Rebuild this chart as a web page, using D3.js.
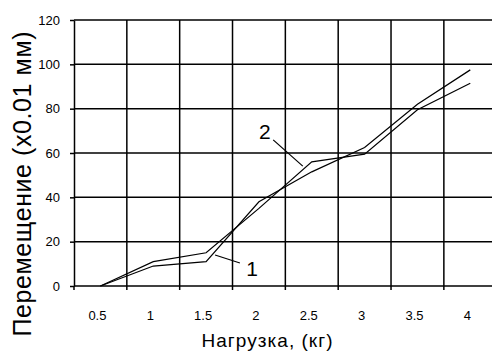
<!DOCTYPE html>
<html>
<head>
<meta charset="utf-8">
<script src="https://cdn.jsdelivr.net/npm/d3@7"></script>
<style>
  body { margin: 0; background: #fff; }
  svg text { font-family: "Liberation Sans", Arial, sans-serif; fill: #000; }
</style>
</head>
<body>
<figure id="chart" style="margin:0"></figure>
<script>
// data
const categories = ["0.5", "1", "1.5", "2", "2.5", "3", "3.5", "4"];
const series1 = [0, 9, 11, 38, 51.5, 62.5, 82, 97.5];
const series2 = [0, 11, 15, 35, 56, 59.5, 79.5, 91.5];
const yTicks = [0, 20, 40, 60, 80, 100, 120];
const yTitle = "Перемещение (x0.01 мм)";
const xTitle = "Нагрузка, (кг)";
// annotations: [category index, value]
const label1 = { text: "1", at: [2.76, 4.5], from: [2.64, 10.4], to: [2.17, 14] };
const label2 = { text: "2", at: [3.0, 66.3], from: [3.27, 65.9], to: [3.83, 54.1] };

const width = 492, height = 351;
const plotLeft = 74, plotTop = 20, plotRight = 496.7, plotBottom = 286;

const svg = d3.select("figure#chart")
  .append("svg")
  .attr("width", width)
  .attr("height", height);

const x = d3.scaleBand().domain(categories).range([plotLeft, plotRight]);
const xi = d3.scaleLinear().domain([-0.5, categories.length - 0.5]).range([plotLeft, plotRight]);
const y = d3.scaleLinear().domain([0, 120]).range([plotBottom, plotTop]);

// horizontal gridlines
svg.append("g").selectAll("line")
  .data(yTicks)
  .enter()
  .append("line")
  .attr("x1", plotLeft).attr("x2", plotRight)
  .attr("y1", d => y(d)).attr("y2", d => y(d))
  .attr("stroke", "#000").attr("stroke-width", 1.5);

// vertical gridlines between categories
const bounds = categories.map((c, i) => xi(i - 0.5));
svg.append("g").selectAll("line")
  .data(bounds.slice(1))
  .enter()
  .append("line")
  .attr("x1", d => d).attr("x2", d => d)
  .attr("y1", plotTop).attr("y2", plotBottom)
  .attr("stroke", "#000").attr("stroke-width", 1.5);

// x tick marks
svg.append("g").selectAll("line")
  .data(bounds)
  .enter()
  .append("line")
  .attr("x1", d => d).attr("x2", d => d)
  .attr("y1", plotBottom).attr("y2", plotBottom + 4)
  .attr("stroke", "#000").attr("stroke-width", 1.5);

// Y axis
const yAxis = svg.append("g")
  .attr("transform", "translate(" + plotLeft + ",0)")
  .call(d3.axisLeft(y).tickValues(yTicks).tickSize(4).tickPadding(10).tickSizeOuter(0));
yAxis.select(".domain").attr("stroke", "#000").attr("stroke-width", 1.5);
yAxis.selectAll(".tick line").attr("stroke", "#000").attr("stroke-width", 1.5);
yAxis.selectAll("text").style("font-size", "13px");

// X axis labels
const xAxis = svg.append("g")
  .attr("transform", "translate(0," + plotBottom + ")")
  .call(d3.axisBottom(x).tickSize(0).tickPadding(25));
xAxis.select(".domain").remove();
xAxis.selectAll("text").style("font-size", "13px").attr("dx", -3);

// lines
const line = d3.line()
  .x((d, i) => x(categories[i]) + x.bandwidth() / 2)
  .y(d => y(d));

[series1, series2].forEach(s => {
  svg.append("path")
    .datum(s)
    .attr("d", line)
    .attr("fill", "none")
    .attr("stroke", "#000")
    .attr("stroke-width", 1.2);
});

// annotations
[label1, label2].forEach(a => {
  svg.append("line")
    .attr("x1", xi(a.from[0])).attr("y1", y(a.from[1]))
    .attr("x2", xi(a.to[0])).attr("y2", y(a.to[1]))
    .attr("stroke", "#000").attr("stroke-width", 1.2);
  svg.append("text")
    .attr("x", xi(a.at[0])).attr("y", y(a.at[1]))
    .style("font-size", "21px")
    .text(a.text);
});

// axis titles
svg.append("text")
  .attr("transform", "translate(31,184) rotate(-90)")
  .attr("text-anchor", "middle")
  .attr("textLength", 305)
  .style("font-size", "25px")
  .text(yTitle);

svg.append("text")
  .attr("x", 267).attr("y", 347)
  .attr("text-anchor", "middle")
  .attr("textLength", 131)
  .style("font-size", "19px")
  .text(xTitle);
</script>
</body>
</html>
